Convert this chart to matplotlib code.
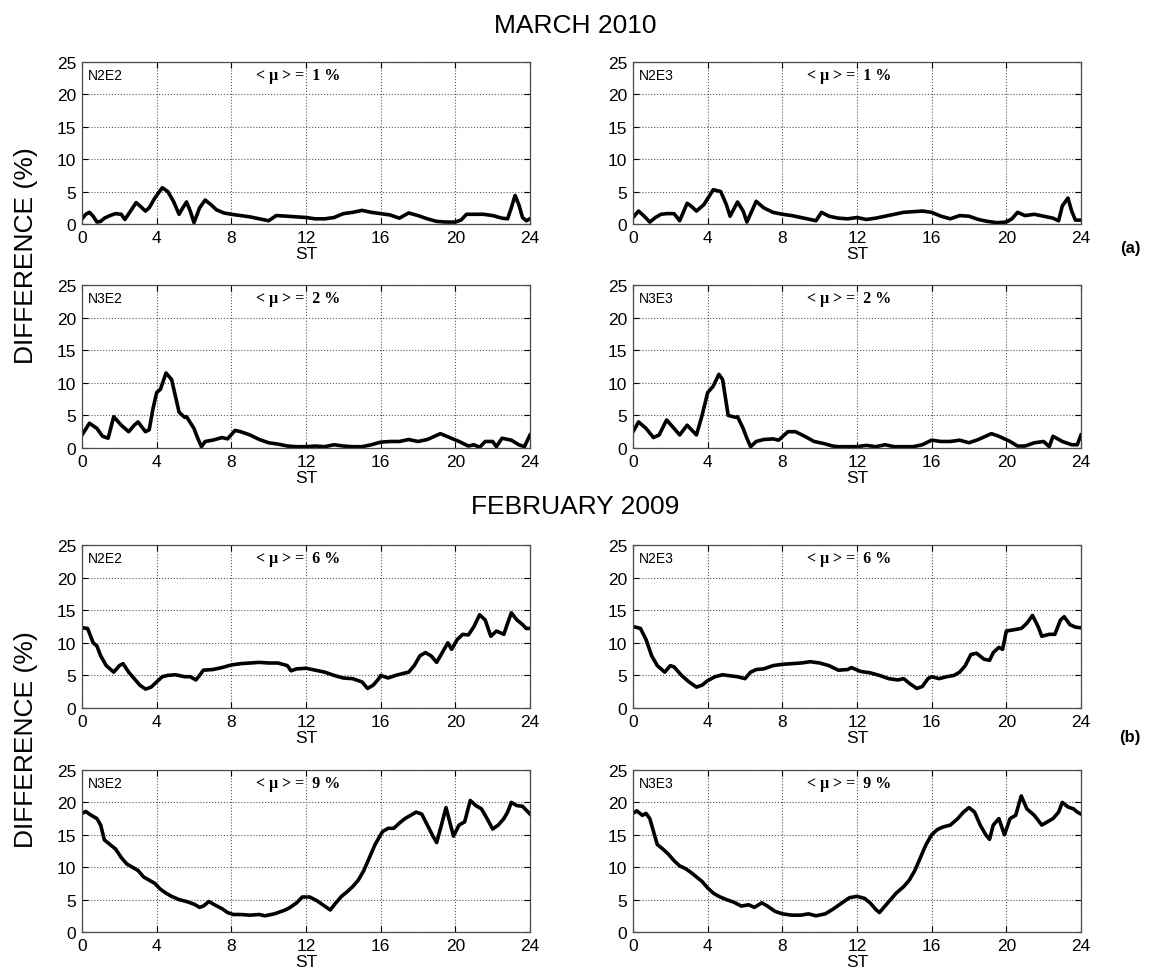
import numpy as np
import matplotlib
matplotlib.use('Agg')
import matplotlib.pyplot as plt

plt.rcParams['font.family'] = ['Liberation Sans', 'DejaVu Sans']

# ---- data (hour ST, difference %) ----
mar_n2e2_t = [0, 0.2, 0.4, 0.6, 0.8, 1.0, 1.2, 1.5, 1.8, 2.1, 2.3, 2.6, 2.9, 3.1, 3.4, 3.6, 3.9, 4.3, 4.6, 4.9,
              5.2, 5.4, 5.6, 5.8, 6.0, 6.3, 6.6, 6.9, 7.2, 7.6, 8.0, 8.5, 9.0, 9.5, 10.0, 10.4, 11.0, 11.5, 12.0,
              12.5, 13.0, 13.5, 14.0, 14.5, 15.0, 15.5, 16.0, 16.5, 17.0, 17.5, 18.0, 18.5, 19.0, 19.5, 20.0,
              20.3, 20.6, 21.0, 21.5, 22.0, 22.5, 22.8, 23.0, 23.2, 23.4, 23.6, 23.8, 24.0]
mar_n2e2_v = [0.8, 1.5, 1.8, 1.2, 0.3, 0.4, 0.9, 1.3, 1.6, 1.5, 0.7, 2.0, 3.3, 2.8, 2.0, 2.5, 4.0, 5.6, 5.0, 3.5,
              1.5, 2.5, 3.4, 2.0, 0.2, 2.5, 3.7, 3.0, 2.2, 1.7, 1.5, 1.3, 1.1, 0.8, 0.5, 1.3, 1.2, 1.1, 1.0,
              0.8, 0.8, 1.0, 1.6, 1.8, 2.1, 1.8, 1.6, 1.4, 0.9, 1.7, 1.3, 0.8, 0.4, 0.3, 0.3,
              0.6, 1.5, 1.5, 1.5, 1.3, 0.9, 0.8, 2.5, 4.4, 3.0, 1.0, 0.5, 0.8]

mar_n2e3_t = [0, 0.3, 0.6, 0.9, 1.2, 1.5, 1.8, 2.2, 2.5, 2.9, 3.1, 3.4, 3.8, 4.3, 4.7, 5.0, 5.2, 5.6, 5.9, 6.1,
              6.6, 7.0, 7.5, 8.0, 8.5, 9.0, 9.5, 9.8, 10.1, 10.5, 11.0, 11.5, 12.0, 12.5, 13.0, 13.5, 14.0,
              14.5, 15.0, 15.5, 16.0, 16.5, 17.0, 17.5, 18.0, 18.5, 19.0, 19.5, 20.0, 20.3, 20.6, 21.0, 21.5,
              22.0, 22.5, 22.8, 23.0, 23.3, 23.5, 23.7, 24.0]
mar_n2e3_v = [1.0, 2.0, 1.2, 0.3, 1.0, 1.5, 1.6, 1.6, 0.5, 3.2, 2.8, 2.0, 3.0, 5.3, 5.0, 3.0, 1.2, 3.4, 2.0, 0.3,
              3.5, 2.5, 1.8, 1.5, 1.3, 1.0, 0.7, 0.5, 1.8, 1.2, 0.9, 0.8, 1.0, 0.7, 0.9, 1.2, 1.5,
              1.8, 1.9, 2.0, 1.8, 1.2, 0.8, 1.3, 1.2, 0.7, 0.4, 0.2, 0.3, 0.8, 1.8, 1.3, 1.5,
              1.2, 0.9, 0.5, 2.8, 4.0, 2.0, 0.6, 0.6]

mar_n3e2_t = [0, 0.4, 0.8, 1.1, 1.4, 1.7, 2.1, 2.5, 2.8, 3.0, 3.4, 3.6, 3.8, 4.0, 4.2, 4.5, 4.8, 5.0, 5.2, 5.5,
              5.6, 6.0, 6.2, 6.4, 6.6, 7.0, 7.5, 7.8, 8.2, 8.5, 9.0, 9.5, 10.0, 10.5, 11.0, 11.5, 12.0, 12.5,
              13.0, 13.5, 14.0, 14.5, 15.0, 15.5, 16.0, 16.5, 17.0, 17.5, 18.0, 18.5, 19.2, 19.7, 20.2, 20.7,
              21.0, 21.3, 21.6, 22.0, 22.2, 22.5, 23.0, 23.4, 23.7, 24.0]
mar_n3e2_v = [2.0, 3.8, 3.0, 1.8, 1.5, 4.8, 3.5, 2.5, 3.5, 4.0, 2.5, 2.8, 6.0, 8.5, 9.0, 11.5, 10.5, 8.0, 5.5, 4.7,
              4.8, 3.0, 1.5, 0.2, 1.0, 1.2, 1.6, 1.4, 2.7, 2.5, 2.0, 1.3, 0.8, 0.6, 0.3, 0.2, 0.2, 0.3,
              0.2, 0.5, 0.3, 0.2, 0.2, 0.5, 0.9, 1.0, 1.0, 1.3, 1.0, 1.3, 2.2, 1.6, 1.0, 0.3,
              0.5, 0.1, 1.0, 1.0, 0.2, 1.5, 1.2, 0.5, 0.2, 2.0]

mar_n3e3_t = [0, 0.3, 0.7, 1.1, 1.4, 1.8, 2.2, 2.5, 2.9, 3.4, 3.7, 4.0, 4.3, 4.6, 4.8, 5.1, 5.5, 5.6, 5.9, 6.1,
              6.3, 6.6, 7.0, 7.5, 7.8, 8.3, 8.7, 9.2, 9.7, 10.2, 10.7, 11.0, 11.5, 12.0, 12.5, 13.0, 13.5,
              14.0, 14.5, 15.0, 15.5, 16.0, 16.5, 17.0, 17.5, 18.0, 18.5, 19.2, 19.6, 20.2, 20.6, 21.0, 21.5,
              22.0, 22.3, 22.5, 23.0, 23.5, 23.8, 24.0]
mar_n3e3_v = [2.5, 4.0, 3.0, 1.6, 2.0, 4.3, 3.0, 2.0, 3.5, 2.0, 5.0, 8.5, 9.5, 11.3, 10.5, 5.0, 4.7, 4.8, 3.0, 1.5,
              0.2, 1.0, 1.3, 1.4, 1.2, 2.5, 2.5, 1.8, 1.0, 0.7, 0.3, 0.2, 0.2, 0.2, 0.4, 0.2, 0.5,
              0.2, 0.2, 0.2, 0.5, 1.2, 1.0, 1.0, 1.2, 0.8, 1.3, 2.2, 1.8, 1.0, 0.3, 0.3, 0.8,
              1.0, 0.2, 1.8, 1.0, 0.5, 0.5, 2.0]

feb_n2e2_t = [0, 0.3, 0.6, 0.8, 1.0, 1.3, 1.5, 1.7, 2.0, 2.2, 2.5, 2.8, 3.1, 3.4, 3.7, 4.0, 4.3, 4.6, 5.0, 5.5,
              5.8, 6.1, 6.3, 6.5, 7.0, 7.5, 8.0, 8.5, 9.0, 9.5, 10.0, 10.5, 11.0, 11.2, 11.5, 12.0, 12.5,
              13.0, 13.5, 14.0, 14.5, 15.0, 15.3, 15.6, 15.9, 16.0, 16.4, 16.8, 17.2, 17.5, 17.8, 18.1, 18.4,
              18.7, 19.0, 19.3, 19.6, 19.8, 20.1, 20.4, 20.7, 21.0, 21.3, 21.6, 21.9, 22.2, 22.6, 22.8, 23.0,
              23.3, 23.6, 23.8, 24.0]
feb_n2e2_v = [12.3, 12.2, 10.0, 9.5, 8.0, 6.5, 6.0, 5.5, 6.5, 6.8, 5.5, 4.5, 3.5, 2.9, 3.2, 4.0, 4.8, 5.0, 5.1, 4.8,
              4.8, 4.3, 5.0, 5.8, 5.9, 6.2, 6.6, 6.8, 6.9, 7.0, 6.9, 6.9, 6.5, 5.7, 6.0, 6.1, 5.8,
              5.5, 5.0, 4.6, 4.5, 4.0, 3.0, 3.5, 4.5, 5.0, 4.6, 5.0, 5.3, 5.5, 6.5, 8.0, 8.5,
              8.0, 7.0, 8.5, 10.0, 9.0, 10.5, 11.3, 11.2, 12.5, 14.3, 13.5, 11.0, 11.8, 11.3, 13.0, 14.6,
              13.5, 12.8, 12.2, 12.2]

feb_n2e3_t = [0, 0.4, 0.7, 1.0, 1.3, 1.7, 2.0, 2.2, 2.6, 3.0, 3.4, 3.7, 4.0, 4.4, 4.8, 5.3, 5.6, 6.0, 6.3, 6.6,
              7.0, 7.5, 8.0, 8.5, 9.0, 9.5, 10.0, 10.5, 11.0, 11.5, 11.7, 12.2, 12.7, 13.2, 13.7, 14.2, 14.5,
              14.8, 15.2, 15.5, 15.8, 16.0, 16.4, 16.8, 17.2, 17.5, 17.8, 18.1, 18.4, 18.8, 19.1, 19.3, 19.6,
              19.8, 20.0, 20.4, 20.8, 21.1, 21.4, 21.7, 21.9, 22.3, 22.6, 22.9, 23.1, 23.4, 23.7, 24.0]
feb_n2e3_v = [12.5, 12.2, 10.5, 8.0, 6.5, 5.5, 6.5, 6.3, 5.0, 4.0, 3.2, 3.5, 4.2, 4.8, 5.1, 4.9, 4.8, 4.5, 5.5, 5.9,
              6.0, 6.5, 6.7, 6.8, 6.9, 7.1, 6.9, 6.5, 5.8, 5.9, 6.2, 5.6, 5.4, 5.0, 4.5, 4.3, 4.5,
              3.8, 3.0, 3.3, 4.5, 4.8, 4.5, 4.8, 5.0, 5.5, 6.5, 8.2, 8.4, 7.5, 7.3, 8.5, 9.3,
              9.0, 11.8, 12.0, 12.2, 13.0, 14.2, 12.5, 11.0, 11.3, 11.3, 13.5, 14.0, 12.8, 12.4, 12.3]

feb_n3e2_t = [0, 0.2, 0.5, 0.8, 1.0, 1.2, 1.5, 1.8, 2.1, 2.4, 2.7, 3.0, 3.3, 3.6, 3.9, 4.2, 4.5, 4.8, 5.2, 5.6,
              6.0, 6.3, 6.5, 6.8, 7.1, 7.5, 7.8, 8.1, 8.5, 9.0, 9.5, 9.8, 10.3, 10.8, 11.1, 11.5, 11.8, 12.2,
              12.6, 13.0, 13.3, 13.6, 13.9, 14.2, 14.5, 14.8, 15.1, 15.4, 15.7, 16.1, 16.4, 16.7, 17.0, 17.3,
              17.6, 17.9, 18.2, 18.5, 18.8, 19.0, 19.3, 19.5, 19.7, 19.9, 20.2, 20.5, 20.8, 21.1, 21.4, 21.7,
              22.0, 22.3, 22.6, 22.8, 23.0, 23.3, 23.6, 23.8, 24.0]
feb_n3e2_v = [18.3, 18.6, 18.0, 17.5, 16.5, 14.2, 13.5, 12.8, 11.5, 10.5, 10.0, 9.5, 8.5, 8.0, 7.5, 6.6, 6.0, 5.5,
              5.0, 4.7, 4.3, 3.8, 4.0, 4.7, 4.2, 3.6, 3.0, 2.7, 2.7, 2.6, 2.7, 2.5, 2.8, 3.3, 3.7, 4.5, 5.4,
              5.4, 4.8, 4.0, 3.4, 4.5, 5.5, 6.2, 7.0, 8.0, 9.5, 11.5, 13.5, 15.5, 16.0, 16.0, 16.8, 17.5,
              18.0, 18.5, 18.2, 16.5, 14.8, 13.8, 17.0, 19.2, 17.0, 14.8, 16.5, 17.0, 20.3, 19.5, 19.0, 17.5,
              15.9, 16.5, 17.5, 18.5, 20.0, 19.5, 19.4, 18.8, 18.2]

feb_n3e3_t = [0, 0.2, 0.5, 0.7, 0.9, 1.1, 1.3, 1.6, 1.9, 2.2, 2.5, 2.8, 3.1, 3.4, 3.7, 4.0, 4.3, 4.6, 5.0, 5.4,
              5.8, 6.2, 6.5, 6.9, 7.2, 7.6, 8.0, 8.5, 9.0, 9.4, 9.8, 10.3, 10.7, 11.2, 11.6, 12.0, 12.4, 12.7,
              13.0, 13.2, 13.5, 13.8, 14.1, 14.5, 14.8, 15.1, 15.4, 15.7, 16.0, 16.3, 16.6, 17.0, 17.4, 17.7,
              18.0, 18.3, 18.6, 18.9, 19.1, 19.3, 19.6, 19.9, 20.2, 20.5, 20.8, 21.1, 21.5, 21.9, 22.2, 22.5,
              22.8, 23.0, 23.3, 23.6, 23.8, 24.0]
feb_n3e3_v = [18.3, 18.7, 18.0, 18.3, 17.5, 15.5, 13.5, 12.8, 12.0, 11.0, 10.2, 9.8, 9.2, 8.5, 7.8, 6.8, 6.0, 5.5,
              5.0, 4.6, 4.0, 4.2, 3.8, 4.5, 4.0, 3.2, 2.8, 2.6, 2.6, 2.8, 2.5, 2.8, 3.5, 4.5, 5.3, 5.5, 5.2,
              4.5, 3.5, 3.0, 4.0, 5.0, 6.0, 7.0, 8.0, 9.5, 11.5, 13.5, 15.0, 15.8, 16.2, 16.5, 17.5, 18.5,
              19.2, 18.5, 16.5, 15.0, 14.3, 16.5, 17.5, 15.0, 17.5, 18.0, 21.0, 19.0, 18.0, 16.5, 17.0, 17.5,
              18.5, 20.0, 19.3, 19.0, 18.5, 18.2]

station = ['N2E2', 'N2E3', 'N3E2', 'N3E3', 'N2E2', 'N2E3', 'N3E2', 'N3E3']
mean_mu = [1, 1, 2, 2, 6, 6, 9, 9]
series = [(mar_n2e2_t, mar_n2e2_v), (mar_n2e3_t, mar_n2e3_v),
          (mar_n3e2_t, mar_n3e2_v), (mar_n3e3_t, mar_n3e3_v),
          (feb_n2e2_t, feb_n2e2_v), (feb_n2e3_t, feb_n2e3_v),
          (feb_n3e2_t, feb_n3e2_v), (feb_n3e3_t, feb_n3e3_v)]

W, H = 1151, 979
fig = plt.figure(figsize=(W / 100, H / 100), dpi=100)

col_x = [82, 633]
row_y = [(63, 225), (286, 449), (546, 709), (771, 933)]
axw = 448

for i in range(8):
    r, c = divmod(i, 2)
    top, bot = row_y[r]
    t, v = series[i]
    ax = fig.add_axes([col_x[c] / W, 1 - bot / H, axw / W, (bot - top) / H])
    ax.plot(t, v, '-k', linewidth=2.6, solid_joinstyle='round')
    ax.set_xlim(0, 24)
    ax.set_ylim(0, 25)
    ax.set_xticks(np.arange(0, 25, 4))
    ax.set_yticks(np.arange(0, 26, 5))
    ax.grid(True, linestyle=':', color='0.35', linewidth=0.8)
    ax.tick_params(direction='in', top=True, right=True, length=4, width=0.8,
                   labelsize=12.5, pad=4)
    for s in ax.spines.values():
        s.set_linewidth(0.9)
        s.set_color('0.3')
    ax.set_xlabel('ST', fontsize=12.5, labelpad=1)
    ax.text(0.3, 23.0, station[i], fontsize=10, va='center', ha='left')
    ax.text(9.3, 23.0, '< \u03bc > =  %d %%' % mean_mu[i], fontsize=11.5, va='center', ha='left',
            family='Liberation Serif', fontweight='bold')

fig.text(0.5, 1 - 26 / H, 'MARCH 2010', fontsize=19, ha='center', va='center')
fig.text(0.5, 1 - 507 / H, 'FEBRUARY 2009', fontsize=19, ha='center', va='center')
fig.text(26 / W, 1 - 256 / H, 'DIFFERENCE (%)', fontsize=19, rotation=90, ha='center', va='center')
fig.text(26 / W, 1 - 740 / H, 'DIFFERENCE (%)', fontsize=19, rotation=90, ha='center', va='center')
fig.text(1130 / W, 1 - 248 / H, '(a)', fontsize=12, fontweight='bold', ha='center', va='center')
fig.text(1130 / W, 1 - 738 / H, '(b)', fontsize=12, fontweight='bold', ha='center', va='center')

fig.savefig('out.png', dpi=100)
